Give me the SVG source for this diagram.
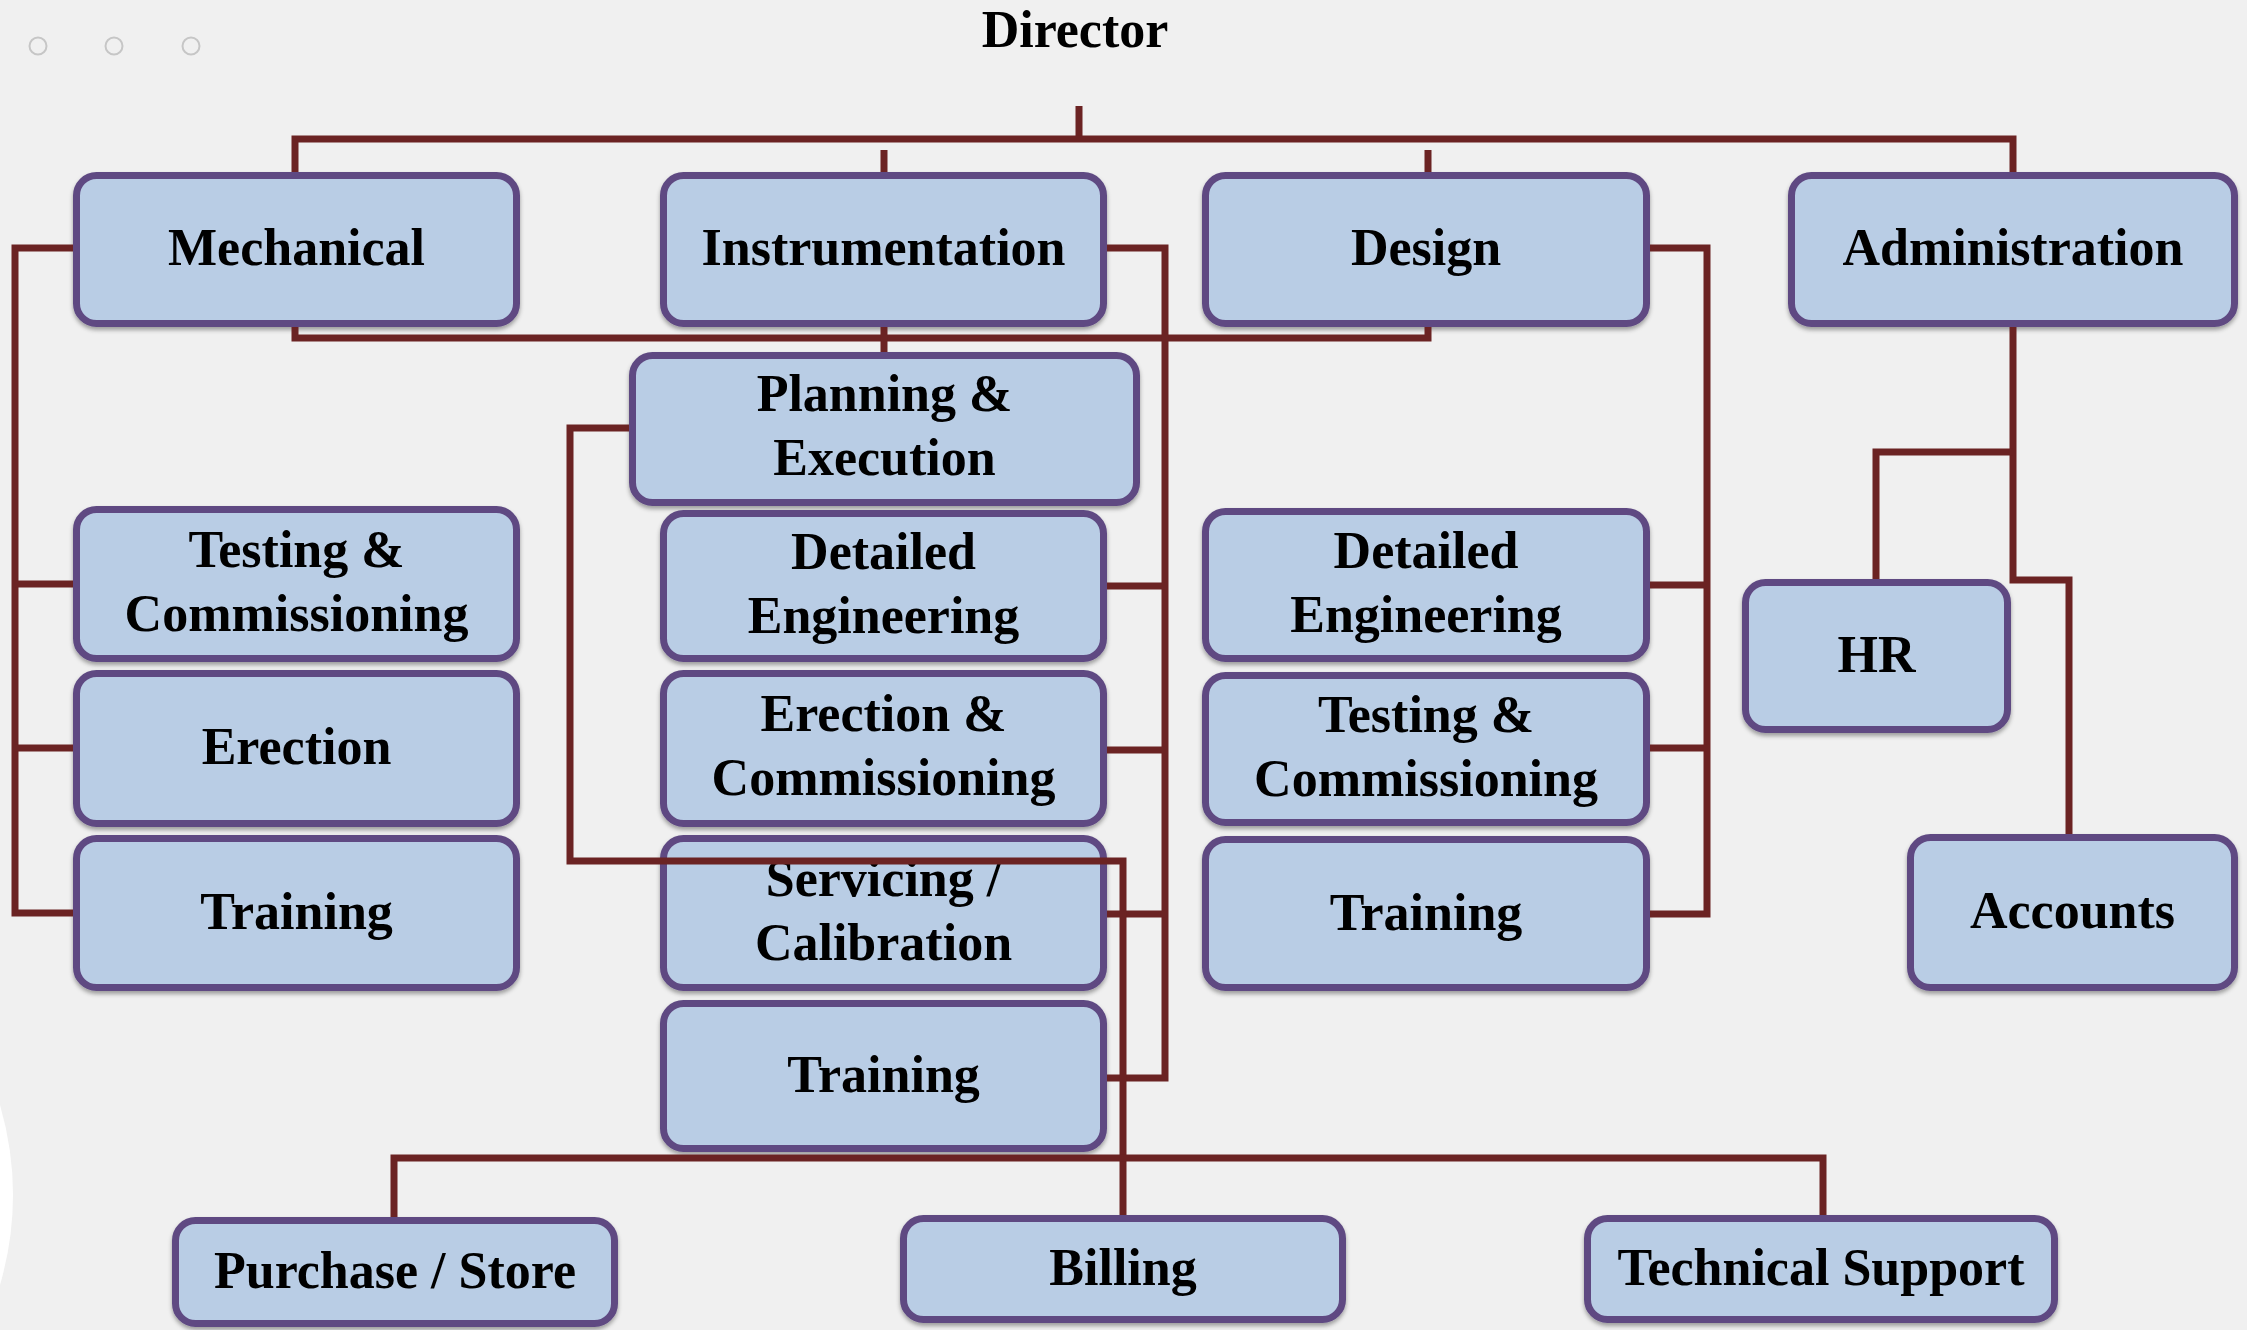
<svg xmlns="http://www.w3.org/2000/svg" width="2247" height="1330" viewBox="0 0 2247 1330">
  <defs>
    <filter id="sh" x="-5%" y="-5%" width="110%" height="120%">
      <feDropShadow dx="0" dy="3" stdDeviation="2" flood-color="#000" flood-opacity="0.35"/>
    </filter>
  </defs>
  <style>
    .box rect { fill: #b9cde5; stroke: #5e4a82; stroke-width: 7; filter: url(#sh); }
    .box text, .title { font-family: "Liberation Serif", "Times New Roman", serif; font-weight: bold; font-size: 52px; fill: #000; text-anchor: middle; }
    .con path { fill: none; stroke: #6b2323; stroke-width: 7; stroke-linejoin: miter; stroke-linecap: butt; }
    .dot { fill: none; stroke: #c6c6c6; stroke-width: 2; }
  </style>
  <rect x="0" y="0" width="2247" height="1330" fill="#f0f0f0"/>
  <path d="M0 1105 Q26 1195 0 1285 Z" fill="#ffffff"/>
  <circle class="dot" cx="38" cy="46" r="8.5"/>
  <circle class="dot" cx="114" cy="46" r="8.5"/>
  <circle class="dot" cx="191" cy="46" r="8.5"/>

  <text class="title" x="1075" y="47">Director</text>

  <g id="mechanical" class="box"><rect x="76.5" y="175.5" width="440" height="148" rx="20"/><text x="296.5" y="265">Mechanical</text></g>
  <g id="instrumentation" class="box"><rect x="663.5" y="175.5" width="440" height="148" rx="20"/><text x="883.5" y="265">Instrumentation</text></g>
  <g id="design" class="box"><rect x="1205.5" y="175.5" width="441" height="148" rx="20"/><text x="1426" y="265">Design</text></g>
  <g id="administration" class="box"><rect x="1791.5" y="175.5" width="443" height="148" rx="20"/><text x="2013" y="265">Administration</text></g>

  <g id="mech-testing" class="box"><rect x="76.5" y="509.5" width="440" height="149" rx="20"/><text x="296.5" y="567">Testing &amp;</text><text x="296.5" y="631">Commissioning</text></g>
  <g id="mech-erection" class="box"><rect x="76.5" y="673.5" width="440" height="150" rx="20"/><text x="296.5" y="764">Erection</text></g>
  <g id="mech-training" class="box"><rect x="76.5" y="838.5" width="440" height="149" rx="20"/><text x="296.5" y="929">Training</text></g>

  <g id="instr-planning" class="box"><rect x="632.5" y="355.5" width="504" height="147" rx="20"/><text x="884.5" y="411">Planning &amp;</text><text x="884.5" y="475">Execution</text></g>
  <g id="instr-detailed" class="box"><rect x="663.5" y="513.5" width="440" height="145" rx="20"/><text x="883.5" y="569">Detailed</text><text x="883.5" y="633">Engineering</text></g>
  <g id="instr-erection" class="box"><rect x="663.5" y="673.5" width="440" height="150" rx="20"/><text x="883.5" y="731">Erection &amp;</text><text x="883.5" y="795">Commissioning</text></g>
  <g id="instr-servicing" class="box"><rect x="663.5" y="838.5" width="440" height="149" rx="20"/><text x="883.5" y="896">Servicing /</text><text x="883.5" y="960">Calibration</text></g>
  <g id="instr-training" class="box"><rect x="663.5" y="1003.5" width="440" height="145" rx="20"/><text x="883.5" y="1092">Training</text></g>

  <g id="design-detailed" class="box"><rect x="1205.5" y="511.5" width="441" height="147" rx="20"/><text x="1426" y="568">Detailed</text><text x="1426" y="632">Engineering</text></g>
  <g id="design-testing" class="box"><rect x="1205.5" y="675.5" width="441" height="147" rx="20"/><text x="1426" y="732">Testing &amp;</text><text x="1426" y="796">Commissioning</text></g>
  <g id="design-training" class="box"><rect x="1205.5" y="839.5" width="441" height="148" rx="20"/><text x="1426" y="930">Training</text></g>

  <g id="hr" class="box"><rect x="1745.5" y="582.5" width="262" height="147" rx="20"/><text x="1876.5" y="672">HR</text></g>
  <g id="accounts" class="box"><rect x="1910.5" y="837.5" width="324" height="150" rx="20"/><text x="2072.5" y="928">Accounts</text></g>

  <g id="purchase" class="box"><rect x="175.5" y="1220.5" width="439" height="103" rx="20"/><text x="395" y="1288">Purchase / Store</text></g>
  <g id="billing" class="box"><rect x="903.5" y="1218.5" width="439" height="101" rx="20"/><text x="1123" y="1285">Billing</text></g>
  <g id="technical-support" class="box"><rect x="1587.5" y="1218.5" width="467" height="101" rx="20"/><text x="1821" y="1285">Technical Support</text></g>

  <g id="connectors" class="con">
    <path d="M1079 106 V139"/>
    <path d="M295 172 V139 H2013 V172"/>
    <path d="M884 150 V172"/>
    <path d="M1428 150 V172"/>
    <path d="M295 327 V338 H1428 V327"/>
    <path d="M884 327 V352"/>
    <path d="M73 248 H15 V913 H73"/>
    <path d="M15 584 H73"/>
    <path d="M15 748 H73"/>
    <path d="M1107 248 H1165 V1078 H1107"/>
    <path d="M1165 586 H1107"/>
    <path d="M1165 750 H1107"/>
    <path d="M1165 914 H1107"/>
    <path d="M1650 248 H1707 V914 H1650"/>
    <path d="M1707 585 H1650"/>
    <path d="M1707 748 H1650"/>
    <path d="M629 428 H570 V861 H1123 V1215"/>
    <path d="M394 1217 V1158 H1823 V1215"/>
    <path d="M2013 327 V580 H2069 V834"/>
    <path d="M2013 452 H1876 V579"/>
  </g>
</svg>
